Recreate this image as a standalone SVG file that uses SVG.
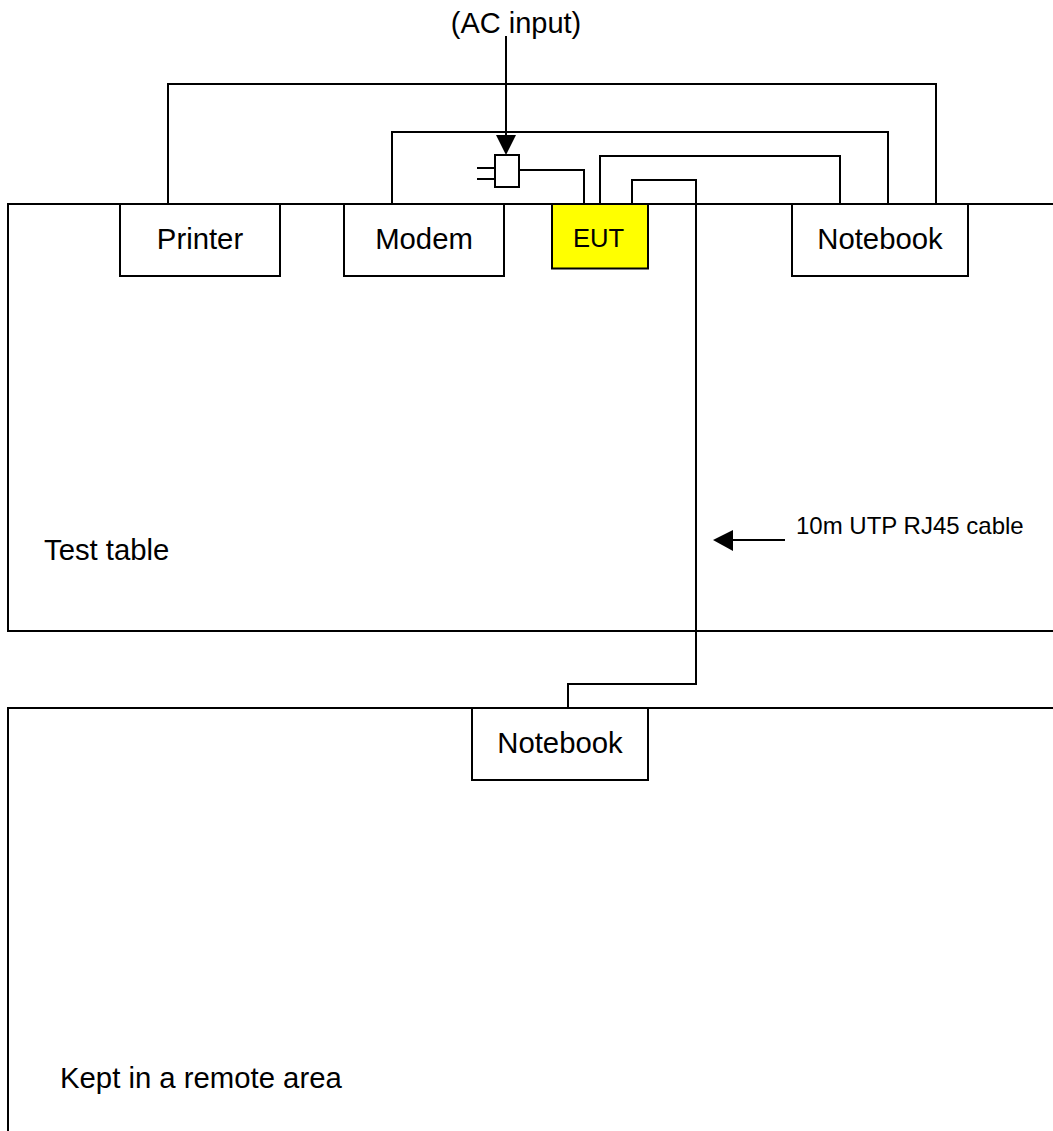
<svg xmlns="http://www.w3.org/2000/svg" width="1053" height="1131" viewBox="0 0 1053 1131">
<style>
.l{fill:none;stroke:#000;stroke-width:2}
.b{fill:#fff;stroke:#000;stroke-width:2}
text{font-family:"Liberation Sans",Arial,sans-serif;fill:#000}
.t{font-size:29.3px}
</style>
<rect width="1053" height="1131" fill="#fff"/>
<g id="test-table"><path class="l" d="M1053 204H8V631H1053"/><text class="t" x="44" y="560">Test table</text></g>
<g id="remote-area"><path class="l" d="M1053 708H8V1131"/><text class="t" x="60" y="1088">Kept in a remote area</text></g>
<g id="connectors">
<path class="l" d="M168 204V84H936V204"/>
<path class="l" d="M392 204V132H888V204"/>
<path class="l" d="M600 204V156H840V204"/>
<path class="l" d="M632 204V180H696V684H568V708"/>
<path class="l" d="M519 170H584V204"/>
<path class="l" d="M477 168H495M477 179H495"/>
<path class="l" d="M506 36V136"/>
<path d="M496 135H516L506 155Z" fill="#000"/>
<path class="l" d="M785 540H732"/>
<path d="M713 540L733 530V551Z" fill="#000"/>
</g>
<g id="plug"><rect class="b" x="495" y="155" width="24" height="32"/></g>
<g id="printer"><rect class="b" x="120" y="204" width="160" height="72"/><text class="t" x="200" y="249" text-anchor="middle">Printer</text></g>
<g id="modem"><rect class="b" x="344" y="204" width="160" height="72"/><text class="t" x="424" y="249" text-anchor="middle">Modem</text></g>
<g id="eut"><rect x="552" y="204" width="96" height="64.500" fill="#ff0" stroke="#000" stroke-width="2"/><text x="598.500" y="247" text-anchor="middle" font-size="25.600">EUT</text></g>
<g id="notebook-1"><rect class="b" x="792" y="204" width="176" height="72"/><text class="t" x="880" y="249" text-anchor="middle">Notebook</text></g>
<g id="notebook-2"><rect class="b" x="472" y="708" width="176" height="72"/><text class="t" x="560" y="753" text-anchor="middle">Notebook</text></g>
<g id="labels">
<text x="516" y="33" font-size="29" text-anchor="middle">(AC input)</text>
<text x="796" y="534" font-size="24">10m UTP RJ45 cable</text>
</g>
</svg>
